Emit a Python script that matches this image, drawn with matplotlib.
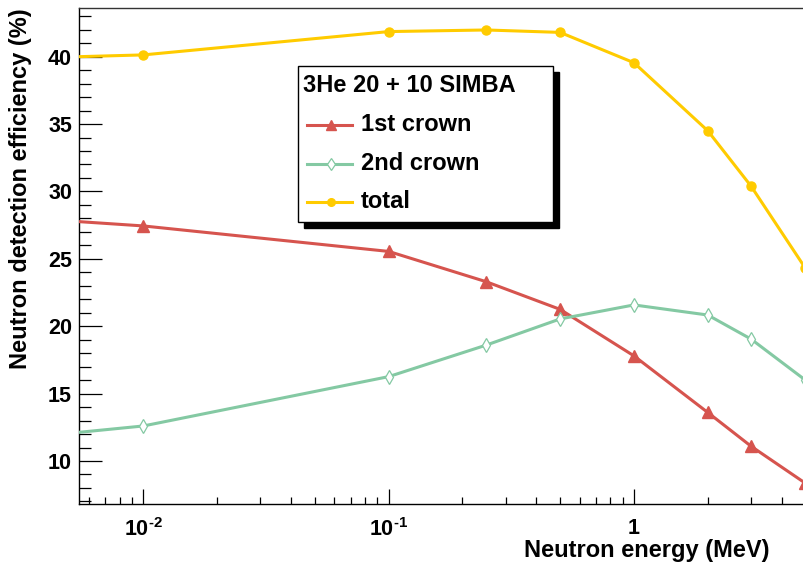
import matplotlib
matplotlib.use("Agg")
import matplotlib.pyplot as plt
from matplotlib.ticker import FixedLocator, FixedFormatter, LogLocator, MultipleLocator, NullFormatter
from matplotlib.patches import Rectangle
from matplotlib.lines import Line2D

plt.rcParams['font.family'] = ['Liberation Sans', 'DejaVu Sans']
plt.rcParams['font.weight'] = 'bold'
plt.rcParams['mathtext.fontset'] = 'custom'
plt.rcParams['mathtext.rm'] = 'Liberation Sans:bold'
plt.rcParams['mathtext.bf'] = 'Liberation Sans:bold'
plt.rcParams['mathtext.default'] = 'bf'

# ---- data ----
energy = [0.001, 0.01, 0.1, 0.25, 0.5, 1.0, 2.0, 3.0, 5.0]
first_crown = [28.66, 27.44, 25.55, 23.3, 21.25, 17.8, 13.6, 11.1, 8.35]
second_crown = [10.8, 12.6, 16.26, 18.6, 20.54, 21.58, 20.83, 19.05, 16.0]
total = [39.63, 40.13, 41.86, 41.98, 41.8, 39.55, 34.5, 30.4, 24.3]

series_labels = ['1st crown', '2nd crown', 'total']
legend_title = '3He 20 + 10 SIMBA'
xtick_values = [0.01, 0.1, 1.0]
xtick_labels = [r'$10^{\text{-}2}$', r'$10^{\text{-}1}$', '1']
ytick_values = [10, 15, 20, 25, 30, 35, 40]

red = '#d6544e'
green = '#84c9a3'
yellow = '#ffcb00'

W, H = 804, 566
fig = plt.figure(figsize=(W / 100, H / 100), dpi=100)
ax = fig.add_axes([79 / W, 62 / H, 726.4 / W, 496 / H])

ax.plot(energy, first_crown, color=red, lw=2.2, marker='^', ms=8.5,
        mfc=red, mec=red, zorder=3)
ax.plot(energy, second_crown, color=green, lw=2.2, marker='d', ms=7,
        mfc='white', mec=green, mew=0.9, zorder=3)
ax.plot(energy, total, color=yellow, lw=2.2, marker='o', ms=6.5,
        mfc=yellow, mec=yellow, zorder=3)

ax.set_xscale('log')
ax.set_xlim(0.005465, 5.0)
ax.set_ylim(6.81, 43.61)

ax.xaxis.set_major_locator(FixedLocator(xtick_values))
ax.xaxis.set_major_formatter(FixedFormatter(xtick_labels))
ax.xaxis.set_minor_locator(LogLocator(base=10, subs=[2, 3, 4, 5, 6, 7, 8, 9], numticks=20))
ax.xaxis.set_minor_formatter(NullFormatter())
ax.yaxis.set_major_locator(FixedLocator(ytick_values))
ax.yaxis.set_minor_locator(MultipleLocator(1))

ax.tick_params(axis='x', which='major', direction='in', length=11, width=0.9,
               labelsize=15.5, pad=10, colors='black')
ax.tick_params(axis='x', which='minor', direction='in', length=5.3, width=0.9)
ax.tick_params(axis='y', which='major', direction='in', length=16.5, width=0.9,
               labelsize=15.5, pad=5, colors='black')
ax.tick_params(axis='y', which='minor', direction='in', length=8.3, width=0.9)
for lab in ax.get_xticklabels() + ax.get_yticklabels():
    lab.set_fontweight('bold')

ax.spines['right'].set_visible(False)
for s in ['left', 'bottom', 'top']:
    ax.spines[s].set_linewidth(1.0)
ax.spines['top'].set_color('#333333')

fig.text(770 / W, 1 - 551 / H, 'Neutron energy (MeV)', ha='right', va='center',
         fontsize=17, fontweight='bold')
fig.text(21 / W, 1 - 8 / H, 'Neutron detection efficiency (%)', ha='center', va='top',
         rotation=90, fontsize=17, fontweight='bold')

# legend box with shadow
bx0, by0, bx1, by1 = 298, 66, 553, 222
fig.patches.append(Rectangle(((bx0 + 6) / W, 1 - (by1 + 6) / H), (bx1 - bx0) / W, (by1 - by0) / H,
                             transform=fig.transFigure, facecolor='black', edgecolor='black', zorder=5))
fig.patches.append(Rectangle((bx0 / W, 1 - by1 / H), (bx1 - bx0) / W, (by1 - by0) / H,
                             transform=fig.transFigure, facecolor='white', edgecolor='black',
                             lw=1.0, zorder=6))
handles = [
    Line2D([], [], color=red, lw=2.2, marker='^', ms=6.5, mfc=red, mec=red),
    Line2D([], [], color=green, lw=2.2, marker='d', ms=6, mfc='white', mec=green, mew=0.9),
    Line2D([], [], color=yellow, lw=2.2, marker='o', ms=5.5, mfc=yellow, mec=yellow),
]
fig.text(303 / W, 1 - 86 / H, legend_title, ha='left', va='center', fontsize=17,
         fontweight='bold', zorder=7)
row_y = [124.5, 163.5, 202]
for h, lab, yy in zip(handles, series_labels, row_y):
    ln = Line2D([307 / W, 352 / W], [1 - yy / H, 1 - yy / H], transform=fig.transFigure,
                color=h.get_color(), lw=2.2, zorder=7)
    fig.lines.append(ln)
    mk = Line2D([331 / W], [1 - yy / H], transform=fig.transFigure, color=h.get_color(),
                marker=h.get_marker(), ms=h.get_markersize(), mfc=h.get_markerfacecolor(),
                mec=h.get_markeredgecolor(), mew=h.get_markeredgewidth(), lw=0, zorder=8)
    fig.lines.append(mk)
    fig.text(361 / W, 1 - yy / H, lab, ha='left', va='center', fontsize=17,
             fontweight='bold', zorder=8)

fig.savefig('out.png', dpi=100)
